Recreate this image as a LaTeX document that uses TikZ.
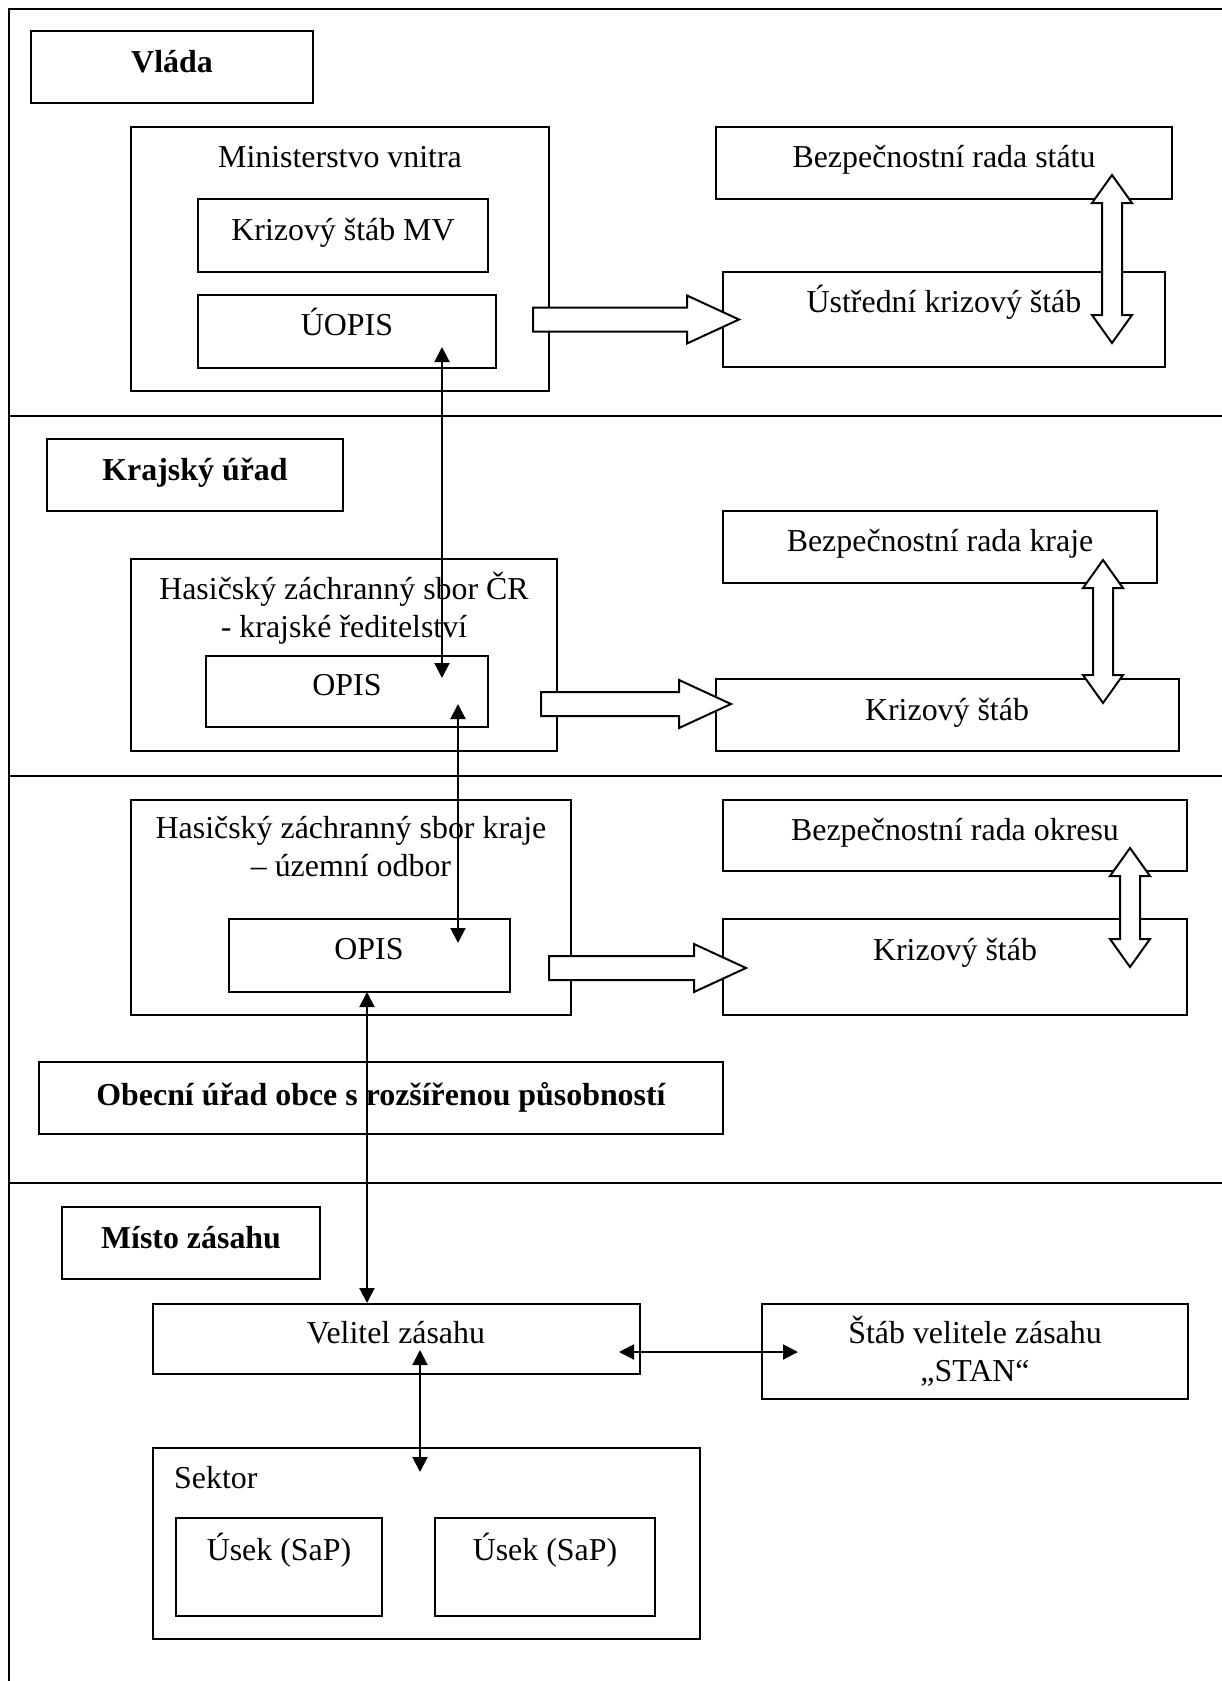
\documentclass[tikz,border=0pt]{standalone}
\usepackage{fontspec}
\setmainfont{Liberation Serif}
\usetikzlibrary{arrows.meta,fit}

\tikzset{
  box/.style={draw, line width=2pt, inner sep=0pt},
  txt/.style={anchor=base, inner sep=0pt, align=center},
  fat/.style={draw, line width=2pt, fill=white},
  link/.style={line width=2pt, {Triangle[length=15pt,width=15pt]}-{Triangle[length=15pt,width=15pt]}},
  frame/.style={line width=2.5pt}
}

% wide hollow arrow to the right: start point, length
\newcommand{\fatright}[2]{%
  \draw[fat] (#1) ++(0,-12) -- ++({#2-52},0) -- ++(0,-12) -- ++(52,24) -- ++(-52,24)
    -- ++(0,-12) -- ++({52-#2},0) -- cycle;}
% wide hollow arrow up and down: top tip, length
\newcommand{\fatupdown}[2]{%
  \draw[fat] (#1) -- ++(20,28) -- ++(-10,0) -- ++(0,{#2-56}) -- ++(10,0) -- ++(-20,28)
    -- ++(-20,-28) -- ++(10,0) -- ++(0,{56-#2}) -- ++(-10,0) -- cycle;}

\begin{document}
\begin{tikzpicture}[x=1pt, y=-1pt, font=\fontsize{31.9}{38}\selectfont]
    \useasboundingbox (0,0) rectangle (1222,1681);

    % frame and level dividers
    \draw[frame] (1222,9) -- (9,9) -- (9,1681);
    \foreach \y in {416,776,1183}
        \draw[frame] (9,\y) -- (1222,\y);

    % government level
    \node[box, fit={(31,31) (313,103)}] (vlada) {};
    \node[txt] (tVlada) at (172,72) {\bfseries Vláda};
    \node[box, fit={(131,127) (549,391)}] (mv) {};
    \node[txt] (tMv) at (340,167) {Ministerstvo vnitra};
    \node[box, fit={(198,199) (488,272)}] (ksmv) {};
    \node[txt] (tKsmv) at (343,240) {Krizový štáb MV};
    \node[box, fit={(198,295) (496,368)}] (uopis) {};
    \node[txt] (tUopis) at (347,335) {ÚOPIS};
    \node[box, fit={(716,127) (1172,199)}] (brs) {};
    \node[txt] (tBrs) at (944,167) {Bezpečnostní rada státu};
    \node[box, fit={(723,272) (1165,367)}] (uks) {};
    \node[txt] (tUks) at (944,312) {Ústřední krizový štáb};

    % region level
    \node[box, fit={(47,439) (343,511)}] (kraj) {};
    \node[txt] (tKraj) at (195,480) {\bfseries Krajský úřad};
    \node[box, fit={(131,559) (557,751)}] (hzscr) {};
    \node[txt] (tHzscr) at (344,637) {Hasičský záchranný sbor ČR\\- krajské ředitelství};
    \node[box, fit={(206,656) (488,727)}] (opisKr) {};
    \node[txt] (tOpisKr) at (347,695) {OPIS};
    \node[box, fit={(723,511) (1157,583)}] (brk) {};
    \node[txt] (tBrk) at (940,551) {Bezpečnostní rada kraje};
    \node[box, fit={(716,679) (1179,751)}] (ksKr) {};
    \node[txt] (tKsKr) at (947,720) {Krizový štáb};

    % district level
    \node[box, fit={(131,800) (571,1015)}] (hzsk) {};
    \node[txt] (tHzsk) at (351,876) {Hasičský záchranný sbor kraje\\– územní odbor};
    \node[box, fit={(229,919) (510,992)}] (opisOk) {};
    \node[txt] (tOpisOk) at (369,959) {OPIS};
    \node[box, fit={(723,800) (1187,871)}] (bro) {};
    \node[txt] (tBro) at (955,840) {Bezpečnostní rada okresu};
    \node[box, fit={(723,919) (1187,1015)}] (ksOk) {};
    \node[txt] (tKsOk) at (955,960) {Krizový štáb};
    \node[box, fit={(39,1062) (723,1134)}] (orp) {};
    \node[txt] (tOrp) at (381,1105) {\bfseries Obecní úřad obce s rozšířenou působností};

    % site of intervention
    \node[box, fit={(62,1207) (320,1279)}] (misto) {};
    \node[txt] (tMisto) at (191,1248) {\bfseries Místo zásahu};
    \node[box, fit={(153,1304) (640,1374)}] (velitel) {};
    \node[txt] (tVelitel) at (396,1343) {Velitel zásahu};
    \node[box, fit={(762,1304) (1188,1399)}] (stab) {};
    \node[txt] (tStab) at (975,1381) {Štáb velitele zásahu\\„STAN“};
    \node[box, fit={(153,1448) (700,1639)}] (sektor) {};
    \node[txt, anchor=base west] (tSektor) at (174,1488) {Sektor};
    \node[box, fit={(176,1518) (382,1616)}] (usekA) {};
    \node[txt] (tUsekA) at (279,1560) {Úsek (SaP)};
    \node[box, fit={(435,1518) (655,1616)}] (usekB) {};
    \node[txt] (tUsekB) at (545,1560) {Úsek (SaP)};

    % wide arrows
    \coordinate (mvOut) at (533,319.5);
    \fatright{mvOut}{206}
    \coordinate (hzscrOut) at (541,704);
    \fatright{hzscrOut}{190}
    \coordinate (hzskOut) at (549,968);
    \fatright{hzskOut}{197}
    \coordinate (brsTip) at (1112,175);
    \fatupdown{brsTip}{168}
    \coordinate (brkTip) at (1103,560);
    \fatupdown{brkTip}{143}
    \coordinate (broTip) at (1130,848);
    \fatupdown{broTip}{119}

    % links between the operational centres
    \coordinate (uopisEnd) at (442,347);
    \coordinate (opisKrIn) at (442,678);
    \coordinate (opisKrOut) at (458,704);
    \coordinate (opisOkIn) at (458,943);
    \coordinate (opisOkOut) at (367,992);
    \coordinate (velitelIn) at (367,1303);
    \coordinate (velitelOut) at (619,1352);
    \coordinate (stabIn) at (798,1352);
    \coordinate (velitelDown) at (420,1350);
    \coordinate (sektorIn) at (420,1472);
    \draw[link] (uopisEnd) -- (opisKrIn);
    \draw[link] (opisKrOut) -- (opisOkIn);
    \draw[link] (opisOkOut) -- (velitelIn);
    \draw[link] (velitelOut) -- (stabIn);
    \draw[link] (velitelDown) -- (sektorIn);
\end{tikzpicture}
\end{document}
